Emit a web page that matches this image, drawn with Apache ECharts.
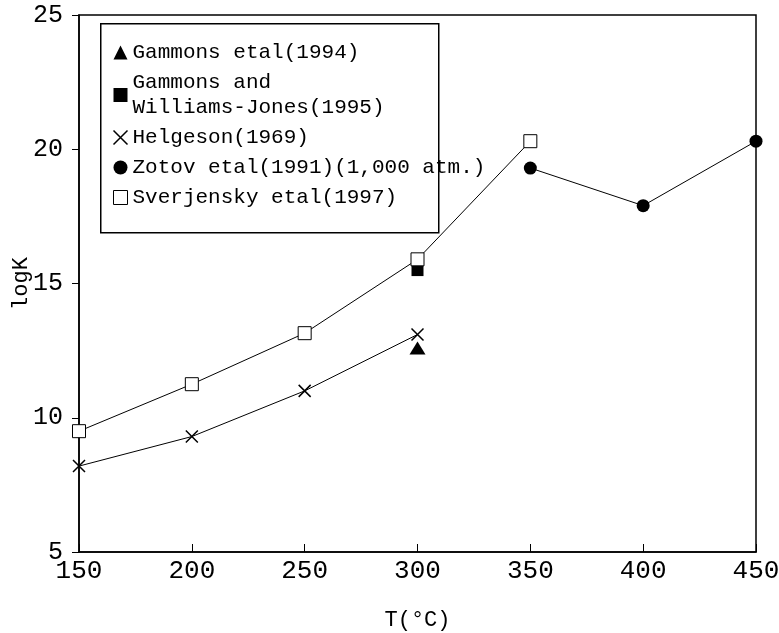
<!DOCTYPE html>
<html>
<head>
<meta charset="utf-8">
<title>logK vs T</title>
<script src="https://cdn.jsdelivr.net/npm/echarts@6/dist/echarts.min.js"></script>
<style>
  html, body { margin: 0; padding: 0; background: #fff; }
  #main { width: 779px; height: 633px; }
</style>
</head>
<body>
<div id="main"></div>
<script>
// 数据
var xTicks = [150, 200, 250, 300, 350, 400, 450];
var yTicks = [5, 10, 15, 20, 25];

var gammons1994 = [[300, 12.6]];
var gammonsWJ1995 = [[300, 15.5]];
var helgesonT = [150, 200, 250, 300];
var helgesonK = [8.2, 9.3, 11.0, 13.1];
var zotovT = [350, 400, 450];
var zotovK = [19.3, 17.9, 20.3];
var sverjT = [150, 200, 250, 300, 350];
var sverjK = [9.5, 11.25, 13.15, 15.9, 20.3];

var names = [
  'Gammons etal(1994)',
  'Gammons and\nWilliams-Jones(1995)',
  'Helgeson(1969)',
  'Zotov etal(1991)(1,000 atm.)',
  'Sverjensky etal(1997)'
];

function pairs(xs, ys) {
  var out = [];
  for (var i = 0; i < xs.length; i++) {
    out.push([xs[i], ys[i]]);
  }
  return out;
}

var cross = 'path://M0,0L10,10M10,0L0,10';
var font = 'Liberation Mono';

var myChart = echarts.init(document.getElementById('main'));
var option = {
  animation: false,
  grid: {
    left: 79,
    right: 23,
    top: 15,
    bottom: 81,
    outerBoundsMode: 'none',
    containLabel: false,
    show: true,
    borderColor: '#000',
    borderWidth: 1.5
  },
  graphic: [{
    type: 'rect',
    left: 100,
    top: 23,
    shape: { width: 338, height: 209 },
    style: { fill: '#fff', stroke: '#000', lineWidth: 1.5 },
    z: 0
  }],
  legend: {
    orient: 'vertical',
    left: 111,
    top: 40,
    padding: 0,
    itemGap: 5,
    itemWidth: 14,
    itemHeight: 14,
    selectedMode: false,
    textStyle: {
      fontFamily: font,
      fontSize: 21,
      lineHeight: 25,
      color: '#000'
    },
    data: [
      { name: names[0], icon: 'triangle', itemStyle: { color: '#000', opacity: 1 } },
      { name: names[1], icon: 'rect', itemStyle: { color: '#000', opacity: 1 } },
      { name: names[2], icon: cross, itemStyle: { color: 'none', borderColor: '#000', borderWidth: 1.5 } },
      { name: names[3], icon: 'circle', itemStyle: { color: '#000' } },
      { name: names[4], icon: 'rect', itemStyle: { color: '#fff', borderColor: '#000', borderWidth: 1 } }
    ]
  },
  xAxis: {
    type: 'value',
    min: xTicks[0],
    max: xTicks[xTicks.length - 1],
    interval: 50,
    name: 'T(°C)',
    nameLocation: 'middle',
    nameGap: 57,
    nameMoveOverlap: false,
    nameTextStyle: { fontFamily: font, fontSize: 22, color: '#000' },
    axisLine: { lineStyle: { color: '#000', width: 1.5 } },
    axisTick: { inside: true, length: 8, lineStyle: { color: '#000' } },
    axisLabel: { fontFamily: font, fontSize: 26, color: '#000', margin: 6 },
    splitLine: { show: false }
  },
  yAxis: {
    type: 'value',
    min: yTicks[0],
    max: yTicks[yTicks.length - 1],
    interval: 5,
    name: 'logK',
    nameLocation: 'middle',
    nameGap: 47,
    nameMoveOverlap: false,
    nameTextStyle: { fontFamily: font, fontSize: 22, color: '#000' },
    axisLine: { lineStyle: { color: '#000', width: 1.5 } },
    axisTick: { length: 7, lineStyle: { color: '#000' } },
    axisLabel: { fontFamily: font, fontSize: 25, color: '#000', margin: 16 },
    splitLine: { show: false }
  },
  series: [
    {
      name: names[2],
      type: 'line',
      data: pairs(helgesonT, helgesonK),
      symbol: cross,
      symbolSize: 12,
      lineStyle: { color: '#000', width: 1 },
      itemStyle: { color: 'none', borderColor: '#000', borderWidth: 1.5 },
      z: 3
    },
    {
      name: names[3],
      type: 'line',
      data: pairs(zotovT, zotovK),
      symbol: 'circle',
      symbolSize: 13,
      lineStyle: { color: '#000', width: 1 },
      itemStyle: { color: '#000' },
      z: 3
    },
    {
      name: names[0],
      type: 'scatter',
      data: gammons1994,
      symbol: 'triangle',
      symbolSize: [16, 13],
      itemStyle: { color: '#000', opacity: 1 },
      z: 3
    },
    {
      name: names[1],
      type: 'scatter',
      data: gammonsWJ1995,
      symbol: 'rect',
      symbolSize: 12,
      itemStyle: { color: '#000', opacity: 1 },
      z: 3
    },
    {
      name: names[4],
      type: 'line',
      data: pairs(sverjT, sverjK),
      symbol: 'rect',
      symbolSize: 13,
      lineStyle: { color: '#000', width: 1 },
      itemStyle: { color: '#fff', borderColor: '#000', borderWidth: 1 },
      z: 4
    }
  ]
};
option && myChart.setOption(option);
</script>
</body>
</html>
